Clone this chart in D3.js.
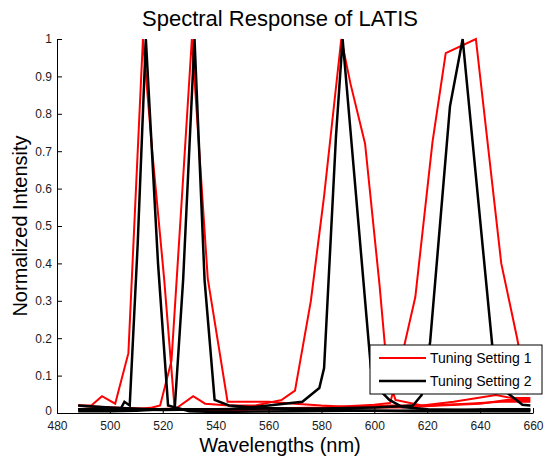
<!DOCTYPE html>
<html>
<head>
<meta charset="utf-8">
<script src="https://cdn.jsdelivr.net/npm/d3@7"></script>
<style>
  html, body { margin: 0; padding: 0; background: #fff; }
  svg { display: block; font-family: Arial, "Liberation Sans", sans-serif; }
</style>
</head>
<body>
<svg id="chart" width="554" height="469"></svg>
<script>
// ---------------- data ----------------
const xTicks = [480, 500, 520, 540, 560, 580, 600, 620, 640, 660];
const yTicks = [0, 0.1, 0.2, 0.3, 0.4, 0.5, 0.6, 0.7, 0.8, 0.9, 1];
const seriesNames = ["Tuning Setting 1", "Tuning Setting 2"];

// Tuning Setting 1 (red) - four filters
const red1Nm  = [488, 493, 497, 502, 507, 510, 512.5, 516, 520.5, 524.5, 530, 540, 550, 560, 575, 590, 605, 620, 635, 648, 659];
const red1Val = [0.02, 0.02, 0.045, 0.025, 0.16, 0.62, 1.0, 0.7, 0.36, 0.01, 0.01, 0.005, 0.008, 0.01, 0.012, 0.015, 0.02, 0.02, 0.025, 0.03, 0.03];
const red2Nm  = [488, 500, 510, 516, 519, 523.3, 527, 531, 537, 544.5, 550, 560, 570, 580, 595, 610, 625, 640, 650, 659];
const red2Val = [0.01, 0.01, 0.01, 0.015, 0.02, 0.14, 0.55, 1.0, 0.36, 0.03, 0.03, 0.03, 0.025, 0.02, 0.015, 0.015, 0.02, 0.025, 0.035, 0.035];
const red3Nm  = [488, 500, 515, 525, 531.5, 536, 545, 555, 565, 570, 576, 581, 587.5, 591, 596.5, 602, 605, 608, 618, 630, 646, 652, 659];
const red3Val = [0.01, 0.015, 0.01, 0.012, 0.045, 0.025, 0.02, 0.02, 0.035, 0.06, 0.3, 0.58, 1.0, 0.88, 0.72, 0.34, 0.1, 0.035, 0.02, 0.03, 0.048, 0.04, 0.04];
const red4Nm  = [488, 500, 520, 540, 560, 580, 595, 600, 606, 609.7, 615.5, 622, 627, 638.4, 648, 654, 658];
const red4Val = [0.02, 0.015, 0.01, 0.01, 0.012, 0.015, 0.02, 0.022, 0.027, 0.13, 0.31, 0.725, 0.962, 1.0, 0.4, 0.2, 0.05];

// Tuning Setting 2 (black) - four filters
const black1Nm  = [488, 495, 500, 504, 505.5, 507.5, 510.5, 513.6, 518.2, 522, 530, 540, 555, 570, 590, 610, 630, 645, 659];
const black1Val = [0.01, 0.012, 0.01, 0.01, 0.03, 0.02, 0.45, 1.0, 0.4, 0.02, 0.005, 0.003, 0.004, 0.005, 0.006, 0.006, 0.008, 0.01, 0.01];
const black2Nm  = [488, 500, 510, 520, 524.5, 527.7, 532, 535.8, 539.6, 545, 555, 570, 585, 600, 615, 630, 645, 659];
const black2Val = [0.005, 0.005, 0.006, 0.01, 0.01, 0.356, 1.0, 0.356, 0.035, 0.02, 0.015, 0.01, 0.008, 0.006, 0.005, 0.005, 0.005, 0.005];
const black3Nm  = [488, 500, 515, 530, 545, 560, 572.8, 579.2, 581, 585.5, 588, 598.7, 601.2, 605.7, 610.6, 620, 635, 650, 659];
const black3Val = [0.02, 0.015, 0.01, 0.01, 0.01, 0.02, 0.03, 0.067, 0.12, 0.74, 1.0, 0.12, 0.067, 0.035, 0.016, 0.01, 0.008, 0.008, 0.008];
const black4Nm  = [488, 500, 520, 540, 560, 580, 600, 610, 614.6, 617.9, 621.1, 628.6, 633.4, 644.6, 649.7, 656, 659];
const black4Val = [0.01, 0.01, 0.008, 0.01, 0.012, 0.012, 0.015, 0.018, 0.02, 0.048, 0.19, 0.82, 1.0, 0.18, 0.057, 0.022, 0.02];

const redCurves   = [[red1Nm, red1Val], [red2Nm, red2Val], [red3Nm, red3Val], [red4Nm, red4Val]];
const blackCurves = [[black1Nm, black1Val], [black2Nm, black2Val], [black3Nm, black3Val], [black4Nm, black4Val]];

// ---------------- layout ----------------
const W = 554, H = 469;
const margin = {left: 57, right: 21, top: 39, bottom: 56};
const svg = d3.select("#chart");

const x = d3.scaleLinear().domain([480, 660]).range([margin.left, W - margin.right]);
const y = d3.scaleLinear().domain([0, 1]).range([H - margin.bottom, margin.top]);

const line = d3.line().x(d => x(d[0])).y(d => y(d[1]));
const zip = (a, b) => a.map((v, i) => [v, b[i]]);

const plot = svg.append("g");
redCurves.forEach(c => {
  plot.append("path").attr("d", line(zip(c[0], c[1])))
    .attr("fill", "none").attr("stroke", "#ff0000").attr("stroke-width", 2).attr("stroke-linejoin", "miter");
});
blackCurves.forEach(c => {
  plot.append("path").attr("d", line(zip(c[0], c[1])))
    .attr("fill", "none").attr("stroke", "#000000").attr("stroke-width", 2.5).attr("stroke-linejoin", "miter");
});

// axes (inward ticks)
const xAxis = d3.axisBottom(x).tickValues(xTicks).tickSizeInner(-5).tickSizeOuter(0).tickPadding(8).tickFormat(d3.format("d"));
const yAxis = d3.axisLeft(y).tickValues(yTicks).tickSizeInner(-5).tickSizeOuter(0).tickPadding(5).tickFormat(d3.format("~g"));

const gx = svg.append("g").attr("transform", `translate(0,${H - margin.bottom})`).call(xAxis);
const gy = svg.append("g").attr("transform", `translate(${margin.left},0)`).call(yAxis);
[gx, gy].forEach(g => {
  g.select(".domain").attr("stroke", "#000").attr("stroke-width", 1);
  g.selectAll(".tick line").attr("stroke", "#000");
  g.selectAll(".tick text").attr("font-size", 12).attr("fill", "#1a1a1a")
    .attr("font-family", "Arial, 'Liberation Sans', sans-serif");
});
// nudge the "0" label up slightly so it clears the "480" label
gy.selectAll(".tick text").filter(d => d === 0).attr("dy", "0.1em");

// titles
const centerX = 280;
svg.append("text").attr("x", centerX).attr("y", 26)
  .attr("text-anchor", "middle").attr("font-size", 22).attr("fill", "#000")
  .text("Spectral Response of LATIS");
svg.append("text").attr("x", centerX).attr("y", 452)
  .attr("text-anchor", "middle").attr("font-size", 20).attr("fill", "#000")
  .text("Wavelengths (nm)");
svg.append("text").attr("transform", `translate(27,${(margin.top + H - margin.bottom) / 2}) rotate(-90)`)
  .attr("text-anchor", "middle").attr("font-size", 20).attr("fill", "#000")
  .text("Normalized Intensity");

// legend
const lg = svg.append("g").attr("transform", "translate(370,345)");
lg.append("rect").attr("width", 172).attr("height", 49)
  .attr("fill", "#fff").attr("stroke", "#000").attr("stroke-width", 1);
const legendColors = ["#ff0000", "#000000"];
const legendWidths = [2, 2.5];
seriesNames.forEach((name, i) => {
  const yy = 13 + i * 23;
  lg.append("line").attr("x1", 9).attr("x2", 56).attr("y1", yy).attr("y2", yy)
    .attr("stroke", legendColors[i]).attr("stroke-width", legendWidths[i]);
  lg.append("text").attr("x", 60).attr("y", yy + 5).attr("font-size", 14).attr("fill", "#000").text(name);
});
</script>
</body>
</html>
